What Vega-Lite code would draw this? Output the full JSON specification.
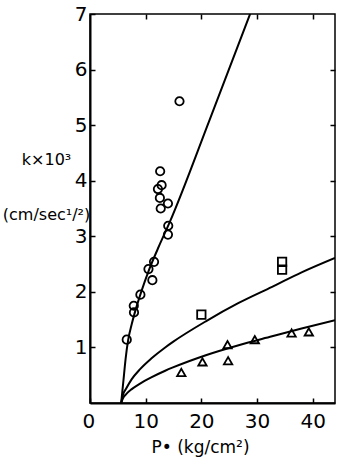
{
  "$schema": "https://vega.github.io/schema/vega-lite/v6.json",
  "width": 245,
  "height": 389,
  "autosize": {"type": "none"},
  "padding": {"left": 90, "top": 14, "right": 3, "bottom": 55},
  "background": "white",
  "config": {
    "view": {"stroke": "black", "strokeWidth": 1.5},
    "axis": {
      "grid": false,
      "ticks": true,
      "domainColor": "black",
      "domainWidth": 2,
      "tickColor": "black",
      "tickWidth": 1.5,
      "labelColor": "black",
      "titleColor": "black",
      "labelFont": "DejaVu Sans",
      "titleFont": "DejaVu Sans",
      "labelFontSize": 20,
      "titleFontSize": 16,
      "titleFontWeight": "normal",
      "zindex": 1
    }
  },
  "datasets": {
    "curves": [
      {"curve": "A", "P": 5.6, "k": 0},
      {"curve": "A", "P": 6.0, "k": 0.4},
      {"curve": "A", "P": 6.4, "k": 0.8},
      {"curve": "A", "P": 6.85, "k": 1.13},
      {"curve": "A", "P": 7.5, "k": 1.42},
      {"curve": "A", "P": 8.2, "k": 1.68},
      {"curve": "A", "P": 9.2, "k": 2.0},
      {"curve": "A", "P": 10.5, "k": 2.37},
      {"curve": "A", "P": 12.2, "k": 2.78},
      {"curve": "A", "P": 14.3, "k": 3.25},
      {"curve": "A", "P": 21.5, "k": 5.1},
      {"curve": "A", "P": 28.75, "k": 7.0},
      {"curve": "B", "P": 5.6, "k": 0},
      {"curve": "B", "P": 5.9, "k": 0.14},
      {"curve": "B", "P": 6.5, "k": 0.26},
      {"curve": "B", "P": 7.5, "k": 0.43},
      {"curve": "B", "P": 9.0, "k": 0.61},
      {"curve": "B", "P": 11.0, "k": 0.8},
      {"curve": "B", "P": 13.5, "k": 1.0},
      {"curve": "B", "P": 14.9, "k": 1.1},
      {"curve": "B", "P": 20.8, "k": 1.47},
      {"curve": "B", "P": 26.7, "k": 1.8},
      {"curve": "B", "P": 32.7, "k": 2.09},
      {"curve": "B", "P": 38.0, "k": 2.35},
      {"curve": "B", "P": 44.0, "k": 2.61},
      {"curve": "C", "P": 5.6, "k": 0},
      {"curve": "C", "P": 5.9, "k": 0.08},
      {"curve": "C", "P": 6.5, "k": 0.16},
      {"curve": "C", "P": 7.5, "k": 0.25},
      {"curve": "C", "P": 9.0, "k": 0.35},
      {"curve": "C", "P": 11.0, "k": 0.46},
      {"curve": "C", "P": 13.5, "k": 0.58},
      {"curve": "C", "P": 14.9, "k": 0.64},
      {"curve": "C", "P": 20.8, "k": 0.86},
      {"curve": "C", "P": 26.7, "k": 1.04},
      {"curve": "C", "P": 32.7, "k": 1.2},
      {"curve": "C", "P": 38.0, "k": 1.34},
      {"curve": "C", "P": 44.0, "k": 1.49}
    ],
    "points": [
      {"series": "circle", "P": 6.6, "k": 1.14},
      {"series": "circle", "P": 7.86, "k": 1.75},
      {"series": "circle", "P": 7.9, "k": 1.63},
      {"series": "circle", "P": 9.05, "k": 1.95},
      {"series": "circle", "P": 10.5, "k": 2.41},
      {"series": "circle", "P": 11.2, "k": 2.21},
      {"series": "circle", "P": 11.5, "k": 2.54},
      {"series": "circle", "P": 14.0, "k": 3.03},
      {"series": "circle", "P": 14.05, "k": 3.19},
      {"series": "circle", "P": 14.0, "k": 3.59},
      {"series": "circle", "P": 12.7, "k": 3.5},
      {"series": "circle", "P": 12.55, "k": 3.69},
      {"series": "circle", "P": 12.2, "k": 3.85},
      {"series": "circle", "P": 12.86, "k": 3.92},
      {"series": "circle", "P": 12.6, "k": 4.17},
      {"series": "circle", "P": 16.07, "k": 5.43},
      {"series": "square", "P": 20.0, "k": 1.59},
      {"series": "square", "P": 34.5, "k": 2.54},
      {"series": "square", "P": 34.5, "k": 2.4},
      {"series": "triangle", "P": 16.4, "k": 0.55},
      {"series": "triangle", "P": 20.2, "k": 0.74},
      {"series": "triangle", "P": 24.8, "k": 0.76},
      {"series": "triangle", "P": 24.7, "k": 1.05},
      {"series": "triangle", "P": 29.6, "k": 1.14},
      {"series": "triangle", "P": 36.2, "k": 1.26},
      {"series": "triangle", "P": 39.3, "k": 1.28}
    ]
  },
  "layer": [
    {
      "data": {"name": "curves"},
      "mark": {"type": "line", "interpolate": "monotone", "color": "black", "strokeWidth": 2, "clip": true},
      "encoding": {
        "x": {
          "field": "P", "type": "quantitative",
          "scale": {"domain": [0, 44], "nice": false},
          "axis": {
            "orient": "bottom", "values": [0, 10, 20, 30, 40], "tickSize": -5, "labelPadding": 13,
            "labelOffset": {"condition": {"test": "datum.value == 0", "value": -8}, "value": 0},
            "title": "P\u2022 (kg/cm\u00b2)", "titleFontSize": 17, "titleX": 110, "titleY": 49, "titleAlign": "center", "titleBaseline": "alphabetic"
          }
        },
        "y": {
          "field": "k", "type": "quantitative",
          "scale": {"domain": [0, 7], "nice": false},
          "axis": {
            "orient": "left", "values": [1, 2, 3, 4, 5, 6, 7], "tickSize": -5, "labelPadding": 8,
            "title": ["k\u00d710\u00b3", "(cm/sec\u00b9/\u00b2)"], "titleAngle": 0, "titleX": -44, "titleY": 150,
            "titleAlign": "center", "titleBaseline": "alphabetic", "titleLineHeight": 55
          }
        },
        "detail": {"field": "curve"}
      }
    },
    {
      "data": {"name": "points"},
      "mark": {"type": "point", "filled": false, "color": "black", "opacity": 1, "strokeWidth": 1.8, "size": 70},
      "encoding": {
        "x": {
          "field": "P", "type": "quantitative",
          "scale": {"domain": [0, 44], "nice": false},
          "axis": {"orient": "top", "values": [10, 20, 30, 40], "tickSize": 5, "offset": -5, "labels": false, "domain": false, "title": null}
        },
        "y": {
          "field": "k", "type": "quantitative",
          "scale": {"domain": [0, 7], "nice": false},
          "axis": {"orient": "right", "values": [1, 2, 3, 4, 5, 6], "tickSize": 5, "offset": -5, "labels": false, "domain": false, "title": null}
        },
        "shape": {
          "field": "series", "type": "nominal",
          "scale": {"domain": ["circle", "square", "triangle"], "range": ["circle", "square", "triangle-up"]},
          "legend": null
        }
      }
    }
  ],
  "resolve": {"scale": {"x": "independent", "y": "independent"}}
}
